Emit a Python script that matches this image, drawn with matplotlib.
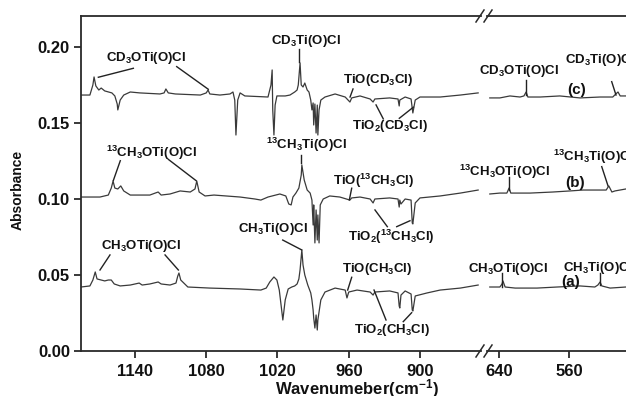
import matplotlib
matplotlib.use("Agg")
import matplotlib.pyplot as plt
from matplotlib.lines import Line2D

plt.rcParams["font.family"] = ["Liberation Sans", "DejaVu Sans"]
plt.rcParams["font.weight"] = "bold"
plt.rcParams["mathtext.default"] = "regular"

# ---- spectra, 1185-850 cm-1 window ----
# (c) CD3Cl
c_hi_wn = [1185.5, 1178, 1175.5, 1174.5, 1173, 1170.5, 1168.5, 1165.5, 1159.5, 1157,
           1155, 1154.5, 1152.5, 1149.5, 1144, 1136, 1119, 1115.5, 1114, 1112,
           1106, 1085, 1080, 1078.5, 1077, 1068.5, 1060, 1057.5, 1056, 1055,
           1053.5, 1051.5, 1047.5, 1028, 1025.5, 1024.5, 1024, 1023, 1022, 1020.5,
           1013.5, 1009.5, 1005.5, 1003.5, 1002.5, 1001, 1000, 998.5, 997, 995,
           993.5, 992, 991, 990, 989.5, 988.5, 987.5, 986.5, 986, 985,
           983.5, 980, 971.5, 963, 959, 957.5, 950.5, 942, 939.5, 938,
           925.5, 918.5, 917.5, 917, 912.5, 907.5, 906, 904, 900, 883,
           866, 851]
c_hi_abs = [.1684, .1684, .1750, .1803, .1744, .1717, .1730, .1711, .1698, .1678,
            .1625, .1586, .1651, .1684, .1704, .1698, .1691, .1698, .1724, .1698,
            .1691, .1684, .1698, .1717, .1691, .1684, .1691, .1704, .1651, .1421,
            .1651, .1698, .1678, .1671, .1750, .1849, .1586, .1421, .1618, .1678,
            .1678, .1684, .1704, .1717, .1750, .1895, .1750, .1737, .1763, .1717,
            .1704, .1651, .1586, .1632, .1487, .1625, .1434, .1618, .1421, .1586,
            .1651, .1671, .1691, .1671, .1638, .1665, .1678, .1658, .1638, .1658,
            .1665, .1658, .1612, .1651, .1671, .1658, .1566, .1651, .1671, .1671,
            .1684, .1698]

# (b) 13CH3Cl
b_hi_wn = [1185.5, 1169.5, 1162.5, 1160, 1158.5, 1157, 1154.5, 1152, 1149.5, 1144,
           1127.5, 1123, 1120.5, 1118, 1110.5, 1102, 1093.5, 1089.5, 1088, 1086,
           1081, 1073.5, 1051.5, 1039, 1034, 1028, 1018, 1013, 1010.5, 1008.5,
           1007, 1004.5, 1002, 1000, 999.5, 997.5, 995, 992.5, 991, 990,
           989.5, 988.5, 987.5, 986.5, 986, 985, 984, 981.5, 976, 967.5,
           959, 957.5, 950.5, 942, 939.5, 938, 925.5, 918.5, 917.5, 917,
           916, 912.5, 907.5, 906.5, 906, 904, 900, 883, 866, 851]
b_hi_abs = [.1013, .1013, .1026, .1072, .1118, .1072, .1066, .1086, .1053, .1026,
            .1026, .1039, .1046, .1026, .1033, .1053, .1046, .1066, .1118, .1046,
            .1020, .1026, .1013, .1000, .0993, .1013, .1033, .1020, .0967, .0961,
            .1013, .1039, .1072, .1158, .1224, .1125, .1059, .1039, .0993, .0829,
            .0961, .0711, .0928, .0730, .0895, .0711, .0961, .1000, .1020, .1013,
            .0993, .1007, .1013, .1000, .0974, .1000, .1007, .1000, .0947, .0993,
            .0967, .1000, .0993, .0842, .0836, .0974, .1007, .1020, .1039, .1059]

# (a) CH3Cl
a_hi_wn = [1185.5, 1178, 1175.5, 1173.5, 1172, 1168.5, 1165.5, 1162.5, 1160, 1157.5,
           1152.5, 1144, 1136.5, 1134, 1127.5, 1120.5, 1118, 1110.5, 1105.5, 1104,
           1103, 1101.5, 1095.5, 1077, 1051.5, 1034, 1029.5, 1026.5, 1023, 1020.5,
           1018.5, 1017, 1015.5, 1013.5, 1011, 1008, 1005.5, 1003.5, 1002, 1001,
           999.5, 998.5, 997, 994.5, 992, 991, 990, 989.5, 988.5, 987.5,
           986.5, 986, 985, 983.5, 980, 971.5, 963, 961.5, 960, 953,
           942, 939.5, 938, 925.5, 918.5, 917.5, 917, 916, 912.5, 907.5,
           906.5, 906, 904, 894, 883, 866, 851]
a_hi_abs = [.0421, .0428, .0467, .0520, .0474, .0467, .0461, .0467, .0467, .0441,
            .0428, .0434, .0447, .0434, .0441, .0454, .0441, .0434, .0447, .0493,
            .0513, .0467, .0421, .0414, .0408, .0401, .0414, .0454, .0487, .0467,
            .0401, .0303, .0204, .0336, .0408, .0421, .0428, .0441, .0474, .0533,
            .0664, .0566, .0500, .0434, .0382, .0336, .0270, .0217, .0151, .0237,
            .0138, .0204, .0257, .0336, .0388, .0414, .0401, .0349, .0388, .0401,
            .0388, .0368, .0388, .0395, .0382, .0296, .0283, .0368, .0395, .0375,
            .0270, .0263, .0362, .0382, .0401, .0414, .0434]

# ---- spectra, 650-480 cm-1 window ----
c_lo_wn = [650.5, 639, 627.5, 616, 611.5, 609, 607, 593, 570.5, 547.5, 524.5, 510,
           506.5, 504, 501.5, 495, 479]
c_lo_abs = [.1665, .1665, .1678, .1671, .1678, .1704, .1671, .1671, .1678, .1665,
            .1671, .1671, .1691, .1704, .1678, .1678, .1678]
b_lo_wn = [650.5, 639, 631, 628.5, 626.5, 621.5, 604.5, 578.5, 559, 544, 524.5, 517.5,
           514.5, 511, 507.5, 495, 479]
b_lo_abs = [.1033, .1039, .1039, .1072, .1039, .1039, .1039, .1046, .1053, .1059,
            .1059, .1059, .1086, .1046, .1053, .1066, .1066]
a_lo_wn = [650.5, 639, 636.5, 635.5, 633, 621.5, 596.5, 573.5, 547.5, 530.5, 527,
           524.5, 522.5, 513, 495, 479]
a_lo_abs = [.0421, .0421, .0441, .0461, .0421, .0414, .0414, .0421, .0428, .0421,
            .0434, .0454, .0428, .0414, .0421, .0421]

x_ticks_hi = [1140, 1080, 1020, 960, 900]
x_ticks_lo = [640, 560]
y_ticks = [0.00, 0.05, 0.10, 0.15, 0.20]

# label text, text position (wn, abs), leader lines [(wn0, a0, wn1, a1), ...]
labels_hi = [
    ("CD$_3$OTi(O)Cl", 1130.3, .1926, [(1170.9, .1801, 1141.4, .1860), (1104.9, .1871, 1078.3, .1722)]),
    ("$^{13}$CH$_3$OTi(O)Cl", 1126.5, .1303, [(1152.4, .1252, 1158.3, .1121), (1112, .1261, 1088.6, .1121)]),
    ("CH$_3$OTi(O)Cl", 1135, .0691, [(1161.1, .0632, 1169.5, .0533), (1114.7, .0632, 1103.5, .0533)]),
    ("CD$_3$Ti(O)Cl", 995.6, .2040, [(1001.6, .1985, 1001.6, .1904)]),
    ("$^{13}$CH$_3$Ti(O)Cl", 996, .1355, [(1000.5, .1290, 1000.5, .1237)]),
    ("CH$_3$Ti(O)Cl", 1024.2, .0803, [(1015.6, .0730, 999.6, .0665)]),
    ("TiO(CD$_3$Cl)", 935.4, .1783, [(956.4, .1724, 958.9, .1671)]),
    ("TiO$_2$(CD$_3$Cl)", 925.7, .1480, [(930.9, .1527, 937, .1619), (917.4, .1531, 905.6, .1604)]),
    ("TiO($^{13}$CH$_3$Cl)", 939.2, .1122, [(957.5, .1071, 959.5, .0994)]),
    ("TiO$_2$($^{13}$CH$_3$Cl)", 924, .0750, [(927.5, .0818, 937.9, .0928), (919.6, .0818, 908.4, .0857)]),
    ("TiO(CH$_3$Cl)", 935.8, .0540, [(957.5, .0485, 960.9, .0401)]),
    ("TiO$_2$(CH$_3$Cl)", 924, .0135, [(928.6, .0204, 938.7, .0401), (914.1, .0193, 907, .0252)]),
]
labels_lo = [
    ("CD$_3$OTi(O)Cl", 617.1, .1842, [(609.1, .1783, 609.1, .1684)]),
    ("CD$_3$Ti(O)Cl", 524.6, .1915, [(511.2, .1772, 506.3, .1684)]),
    ("(c)", 551.2, .1717, []),
    ("$^{13}$CH$_3$OTi(O)Cl", 633.1, .1178, [(628.2, .1147, 628.2, .1059)]),
    ("(b)", 553.1, .1107, []),
    ("$^{13}$CH$_3$Ti(O)Cl", 532, .1277, [(522.6, .1213, 515.4, .1086)]),
    ("CH$_3$OTi(O)Cl", 629.7, .0540, [(636.2, .0511, 636.2, .0423)]),
    ("(a)", 558.1, .0456, []),
    ("CH$_3$Ti(O)Cl", 526.9, .0546, [(524.6, .0511, 524.6, .0434)]),
]

W, H = 626, 396
fig = plt.figure(figsize=(W / 100, H / 100), dpi=100)


def box(x0, x1, y0=16, y1=351):
    return [x0 / W, 1 - y1 / H, (x1 - x0) / W, (y1 - y0) / H]


ax1 = fig.add_axes(box(81, 481))
ax2 = fig.add_axes(box(487, 700))

line_col = "#3a3a3a"
spine_col = "#2a2a2a"
for wn, ab in [(c_hi_wn, c_hi_abs), (b_hi_wn, b_hi_abs), (a_hi_wn, a_hi_abs)]:
    ax1.plot(wn, ab, color=line_col, lw=0.9)
for wn, ab in [(c_lo_wn, c_lo_abs), (b_lo_wn, b_lo_abs), (a_lo_wn, a_lo_abs)]:
    ax2.plot(wn, ab, color=line_col, lw=0.9)

ax1.set_xlim(1185.5, 848.6)
ax2.set_xlim(653.7, 410.3)
for ax in (ax1, ax2):
    ax.set_ylim(0, 0.2204)
    for s in ax.spines.values():
        s.set_color(spine_col)
        s.set_linewidth(1.3)
    ax.tick_params(direction="out", length=5, width=1.3, colors=spine_col,
                   labelsize=12, labelcolor="#111111")
ax1.spines["right"].set_visible(False)
ax2.spines["left"].set_visible(False)
ax2.spines["right"].set_visible(False)

ax1.set_xticks(x_ticks_hi)
ax2.set_xticks(x_ticks_lo)
ax1.set_yticks(y_ticks)
ax1.set_yticklabels([f"{v:.2f}" for v in y_ticks])
ax2.set_yticks([])
ax1.tick_params(axis="y", pad=3)
ax1.tick_params(axis="x", pad=4)
ax2.tick_params(axis="x", pad=4)

for ax, labels in [(ax1, labels_hi), (ax2, labels_lo)]:
    for txt, tx, ty, leaders in labels:
        fs = 11 if txt.startswith("(") else 9.5
        ax.text(tx, ty, txt, ha="center", va="center", fontsize=fs,
                color="#111111", clip_on=False)
        for x0, y0, x1, y1 in leaders:
            ax.plot([x0, x1], [y0, y1], color="#222222", lw=1.0, clip_on=False)

# axis break marks
for y in (16, 351):
    for xs in (476, 484):
        fig.add_artist(Line2D([xs / W, (xs + 8) / W], [1 - (y + 6) / H, 1 - (y - 6) / H],
                              transform=fig.transFigure, color=spine_col, lw=1.1))

fig.text(18 / W, 1 - 190 / H, "Absorbance", rotation=90, ha="center", va="center",
         fontsize=10, color="#111111")
fig.text(357 / W, 1 - 389 / H, "Wavenumeber(cm$^{-1}$)", ha="center", va="center",
         fontsize=12, color="#111111")

fig.savefig("out.png", dpi=100)
